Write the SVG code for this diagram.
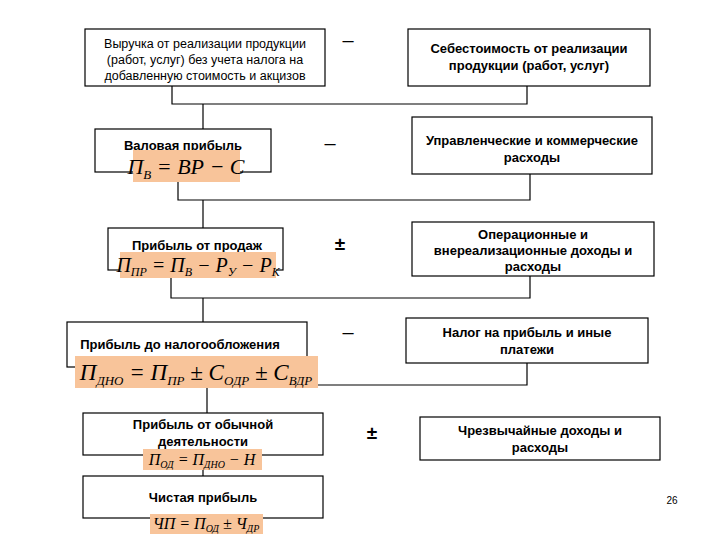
<svg xmlns="http://www.w3.org/2000/svg" width="720" height="540" viewBox="0 0 720 540">
<style>
.b{fill:#fff;stroke:#000;stroke-width:1.2}
.t{font-family:"Liberation Sans",Arial,sans-serif;font-size:12.5px;fill:#000;text-anchor:middle}
.bt{font-weight:bold;font-size:13px}
.s{font-family:"Liberation Sans",Arial,sans-serif;font-size:20px;fill:#000;text-anchor:middle}
.pm{font-family:"Liberation Sans",Arial,sans-serif;font-size:19px;font-weight:bold;fill:#000;text-anchor:middle}
.h{fill:#f8c49a}
.f{font-family:"Liberation Serif","Times New Roman",serif;font-style:italic;fill:#000;text-anchor:middle}
.c{fill:none;stroke:#000;stroke-width:1.2}
</style>
<rect width="720" height="540" fill="#fff"/>
<g id="connectors">
<polyline class="c" points="172,86 172,104 527,104 527,86"/>
<line class="c" x1="203" y1="104" x2="203" y2="129"/>
<polyline class="c" points="178,182 178,200 530,200 530,174"/>
<line class="c" x1="203" y1="200" x2="203" y2="228"/>
<polyline class="c" points="171,278 171,298 530,298 530,276"/>
<line class="c" x1="203" y1="298" x2="203" y2="322"/>
<polyline class="c" points="318,385 527,385 527,363"/>
<line class="c" x1="207" y1="388" x2="207" y2="413"/>
<line class="c" x1="203" y1="470" x2="203" y2="476"/>
</g>
<g id="n1"><rect class="b" x="85" y="29" width="240" height="57"/>
<text class="t" x="205" y="48">Выручка от реализации продукции</text>
<text class="t" x="205" y="64">(работ, услуг) без учета налога на</text>
<text class="t" x="205" y="80">добавленную стоимость и акцизов</text></g>
<g id="r1"><rect class="b" x="408" y="29" width="242" height="57"/>
<text class="t bt" x="529" y="53">Себестоимость от реализации</text>
<text class="t bt" x="529" y="70">продукции (работ, услуг)</text></g>
<g id="n2"><rect class="b" x="95" y="129" width="176" height="43"/>
<text class="t bt" x="183" y="150">Валовая прибыль</text>
<rect class="h" x="133" y="150" width="107" height="32"/>
<text class="f" x="186" y="174" font-size="22">П<tspan font-size="13" dy="5">В</tspan><tspan dy="-5"> = ВР − С</tspan></text></g>
<g id="r2"><rect class="b" x="412" y="117" width="240" height="57"/>
<text class="t bt" x="532" y="145">Управленческие и коммерческие</text>
<text class="t bt" x="532" y="162">расходы</text></g>
<g id="n3"><rect class="b" x="108" y="228" width="175" height="42"/>
<text class="t bt" x="197" y="250">Прибыль от продаж</text>
<rect class="h" x="120" y="252" width="156" height="26"/>
<text class="f" x="198" y="272" font-size="20">П<tspan font-size="12" dy="4">ПР</tspan><tspan dy="-4"> = П</tspan><tspan font-size="12" dy="4">В</tspan><tspan dy="-4"> − Р</tspan><tspan font-size="12" dy="4">У</tspan><tspan dy="-4"> − Р</tspan><tspan font-size="12" dy="4">К</tspan></text></g>
<g id="r3"><rect class="b" x="412" y="222" width="242" height="54"/>
<text class="t bt" x="533" y="239">Операционные и</text>
<text class="t bt" x="533" y="255">внереализационные доходы и</text>
<text class="t bt" x="533" y="271">расходы</text></g>
<g id="n4"><rect class="b" x="67" y="322" width="240" height="45"/>
<text class="t bt" x="180" y="349">Прибыль до налогообложения</text>
<rect class="h" x="75" y="356" width="243" height="32"/>
<text class="f" x="196" y="380" font-size="23">П<tspan font-size="13" dy="5">ДНО</tspan><tspan dy="-5"> = П</tspan><tspan font-size="13" dy="5">ПР</tspan><tspan dy="-5"> ± С</tspan><tspan font-size="13" dy="5">ОДР</tspan><tspan dy="-5"> ± С</tspan><tspan font-size="13" dy="5">ВДР</tspan></text></g>
<g id="r4"><rect class="b" x="406" y="318" width="242" height="45"/>
<text class="t bt" x="527" y="337">Налог на прибыль и иные</text>
<text class="t bt" x="527" y="354">платежи</text></g>
<g id="n5"><rect class="b" x="83" y="413" width="240" height="42"/>
<text class="t bt" x="203" y="429">Прибыль от  обычной</text>
<text class="t bt" x="203" y="446">деятельности</text>
<rect class="h" x="143" y="449" width="119" height="21"/>
<text class="f" x="202" y="465" font-size="16">П<tspan font-size="10" dy="3">ОД</tspan><tspan dy="-3"> = П</tspan><tspan font-size="10" dy="3">ДНО</tspan><tspan dy="-3"> − Н</tspan></text></g>
<g id="r5"><rect class="b" x="420" y="417" width="240" height="43"/>
<text class="t bt" x="540" y="435">Чрезвычайные доходы и</text>
<text class="t bt" x="540" y="452">расходы</text></g>
<g id="n6"><rect class="b" x="83" y="476" width="240" height="42"/>
<text class="t bt" x="203" y="502">Чистая прибыль</text>
<rect class="h" x="150" y="514" width="113" height="20"/>
<text class="f" x="206" y="529" font-size="16">ЧП = П<tspan font-size="10" dy="3">ОД</tspan><tspan dy="-3"> ± Ч</tspan><tspan font-size="10" dy="3">ДР</tspan></text></g>
<g id="signs">
<text class="s" x="348" y="47">–</text>
<text class="s" x="330" y="150">–</text>
<text class="pm" x="340" y="250">±</text>
<text class="s" x="348" y="339">–</text>
<text class="pm" x="372" y="439">±</text>
</g>
<text class="t" x="672" y="504" style="font-size:10px">26</text>
</svg>
